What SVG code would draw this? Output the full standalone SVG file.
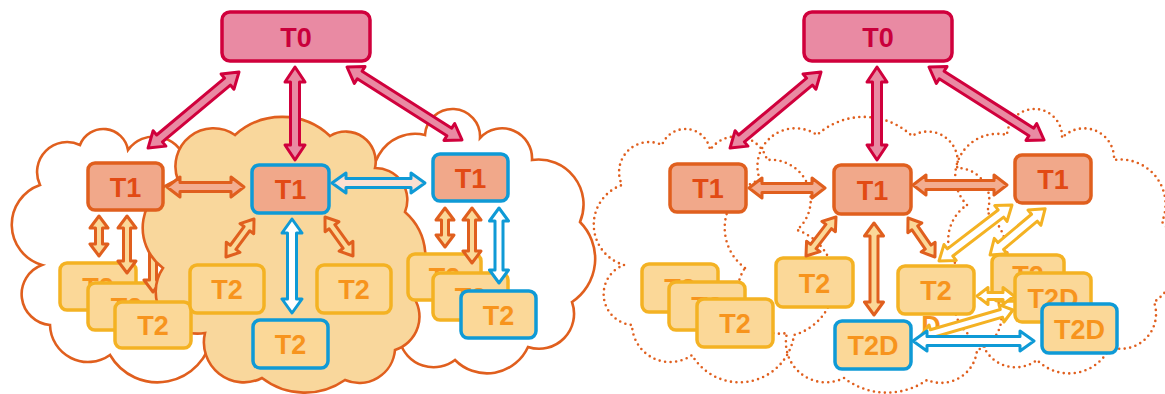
<svg xmlns="http://www.w3.org/2000/svg" xmlns:xlink="http://www.w3.org/1999/xlink" width="1165" height="394" viewBox="0 0 1165 394">
<style>
.cl{fill:#fff;stroke:#e05f1e;stroke-width:2.6}
.clf{fill:#f9d79c;stroke:#e05f1e;stroke-width:2.6}
.cd{fill:none;stroke:#e05f1e;stroke-width:2.6;stroke-dasharray:0 5.5;stroke-linecap:round}
.b0{fill:#e98aa3;stroke:#d0003c;stroke-width:3.5}
.b1{fill:#f1a88a;stroke:#e05f1e;stroke-width:3.5}
.b1b{fill:#f1a88a;stroke:#0f9ad6;stroke-width:3.5}
.b2{fill:#fbd898;stroke:#f4b223;stroke-width:3.5}
.b2b{fill:#fbd898;stroke:#0f9ad6;stroke-width:3.5}
.t{font-family:"Liberation Sans",Arial,sans-serif;font-weight:bold;font-size:27px;text-anchor:middle}
.t0{fill:#c9003c}.t1{fill:#e24a14}.t2{fill:#f7941d}
polygon{stroke-width:3;stroke-linejoin:round}
.ac{fill:#e98aa3;stroke:#d0003c}
.as{fill:#f3ad90;stroke:#e05f1e}
.ay{fill:#fbd898;stroke:#e05f1e}
.ab{fill:#fff;stroke:#0f9ad6}
.abs{fill:#fbe0d2;stroke:#0f9ad6}
.aw{fill:#fff;stroke:#f4b223}
</style>
<defs>
<path id="cL" d="M 42 265 A 42 42 0 0 1 40 185 A 30 30 0 0 1 80 145 A 25 25 0 0 1 128 150 A 32 32 0 0 1 185 160 A 40 40 0 0 1 215 230 A 55 55 0 0 1 212 335 A 55 55 0 0 1 110 355 A 38 38 0 0 1 50 325 A 31 31 0 0 1 42 265 Z"/>
<path id="cR" d="M 385 205 A 42 42 0 0 1 425 135 A 27 27 0 0 1 480 138 A 30 30 0 0 1 532 160 A 45 45 0 0 1 580 222 A 52 52 0 0 1 572 302 A 35 35 0 0 1 528 347 A 45 45 0 0 1 455 360 A 35 35 0 0 1 400 342 A 40 40 0 0 1 385 275 A 42 42 0 0 1 385 205 Z"/>
<path id="cM" d="M 163 268 A 50 50 0 0 1 178 180 A 38 38 0 0 1 235 135 A 70 70 0 0 1 330 136 A 30 30 0 0 1 375 168 A 32 32 0 0 1 405 212 A 60 60 0 0 1 412 295 A 35 35 0 0 1 395 350 A 36 36 0 0 1 345 380 A 70 70 0 0 1 262 378 A 40 40 0 0 1 205 333 A 42 42 0 0 1 163 268 Z"/>
</defs>

<g id="clouds-left">
<use href="#cL" class="cl"/>
<use href="#cR" class="cl"/>
</g>
<g id="clouds-right">
<use href="#cL" class="cd" transform="translate(582 0)"/>
<use href="#cM" class="cd" transform="translate(582 0)"/>
<use href="#cR" class="cd" transform="translate(582 0)"/>
</g>

<g id="L-T2-s1"><rect class="b2" x="60" y="263" width="76" height="47" rx="7"/><text class="t t2" x="98" y="296.5">T2</text></g>
<g id="L-T2-s2"><rect class="b2" x="88" y="283" width="77" height="47" rx="7"/><text class="t t2" x="126.5" y="316.5">T2</text></g>

<g id="connectors-under">
<polygon class="ay" transform="translate(153 212) rotate(90)" points="0,0 12,-9 12,-3.5 68,-3.5 68,-9 80,0 68,9 68,3.5 12,3.5 12,9"/>
<polygon class="aw" transform="translate(990 255) rotate(-40)" points="0,0 14,-10 14,-4.5 58,-4.5 58,-10 72,0 58,10 58,4.5 14,4.5 14,10"/>
</g>

<g id="cloud-middle-filled"><use href="#cM" class="clf"/></g>

<g id="L-T2-s3"><rect class="b2" x="115" y="302" width="76" height="46" rx="7"/><text class="t t2" x="153" y="335">T2</text></g>
<g id="L-T0"><rect class="b0" x="222" y="12" width="148" height="49" rx="8"/><text class="t t0" x="296" y="46.5">T0</text></g>
<g id="L-T1-a"><rect class="b1" x="88" y="163" width="75" height="47" rx="7"/><text class="t t1" x="125.5" y="196.5">T1</text></g>
<g id="L-T1-b"><rect class="b1b" x="252" y="165" width="77" height="48" rx="7"/><text class="t t1" x="290.5" y="199">T1</text></g>
<g id="L-T1-c"><rect class="b1b" x="433" y="154" width="75" height="47" rx="7"/><text class="t t1" x="470.5" y="187.5">T1</text></g>
<g id="L-T2-m1"><rect class="b2" x="190" y="265" width="74" height="48" rx="7"/><text class="t t2" x="227" y="299">T2</text></g>
<g id="L-T2-m2"><rect class="b2" x="317" y="265" width="74" height="48" rx="7"/><text class="t t2" x="354" y="299">T2</text></g>
<g id="L-T2-m3"><rect class="b2b" x="253" y="320" width="75" height="48" rx="7"/><text class="t t2" x="290.5" y="354">T2</text></g>
<g id="L-T2-r1"><rect class="b2" x="408" y="254" width="73" height="46" rx="7"/><text class="t t2" x="444.5" y="287">T2</text></g>
<g id="L-T2-r2"><rect class="b2" x="433" y="273" width="75" height="47" rx="7"/><text class="t t2" x="470.5" y="306.5">T2</text></g>
<g id="L-T2-r3"><rect class="b2b" x="461" y="291" width="75" height="47" rx="7"/><text class="t t2" x="498.5" y="324.5">T2</text></g>

<g id="R-T0"><rect class="b0" x="804" y="12" width="148" height="49" rx="8"/><text class="t t0" x="878" y="46.5">T0</text></g>
<g id="R-T1-a"><rect class="b1" x="670" y="164" width="76" height="48" rx="7"/><text class="t t1" x="708" y="198">T1</text></g>
<g id="R-T1-b"><rect class="b1" x="834" y="165" width="77" height="49" rx="7"/><text class="t t1" x="872.5" y="199.5">T1</text></g>
<g id="R-T1-c"><rect class="b1" x="1015" y="155" width="76" height="48" rx="7"/><text class="t t1" x="1053" y="189">T1</text></g>
<g id="R-T2-s1"><rect class="b2" x="642" y="264" width="76" height="48" rx="7"/><text class="t t2" x="680" y="298">T2</text></g>
<g id="R-T2-s2"><rect class="b2" x="669" y="282" width="76" height="48" rx="7"/><text class="t t2" x="707" y="316">T2</text></g>
<g id="R-T2-s3"><rect class="b2" x="697" y="299" width="76" height="48" rx="7"/><text class="t t2" x="735" y="333">T2</text></g>
<g id="R-T2-m1"><rect class="b2" x="776" y="258" width="77" height="49" rx="7"/><text class="t t2" x="814.5" y="292.5">T2</text></g>
<g id="R-D"><text class="t t2" x="931" y="335">D</text></g>
<g id="R-T2-m2"><rect class="b2" x="898" y="266" width="76" height="48" rx="7"/><text class="t t2" x="936" y="300">T2</text></g>
<g id="R-T2D-m"><rect class="b2b" x="835" y="321" width="76" height="48" rx="7"/><text class="t t2" x="873" y="355">T2D</text></g>
<g id="R-T2-r1"><rect class="b2" x="992" y="255" width="72" height="46" rx="7"/><text class="t t2" x="1028" y="285">T2</text></g>
<g id="R-T2D-r2"><rect class="b2" x="1015" y="273" width="76" height="49" rx="7"/><text class="t t2" x="1053" y="307.5">T2D</text></g>
<g id="R-T2D-r3"><rect class="b2b" x="1042" y="304" width="75" height="49" rx="7"/><text class="t t2" x="1079.5" y="338.5">T2D</text></g>

<g id="connectors">
<polygon class="ac" transform="translate(239 72) rotate(140.1)" points="0,0 15,-10 15,-4.5 103.6,-4.5 103.6,-10 118.6,0 103.6,10 103.6,4.5 15,4.5 15,10"/>
<polygon class="ac" transform="translate(295 67) rotate(90)" points="0,0 15,-10 15,-4.5 78,-4.5 78,-10 93,0 78,10 78,4.5 15,4.5 15,10"/>
<polygon class="ac" transform="translate(347 67) rotate(32.4)" points="0,0 15,-10 15,-4.5 121.2,-4.5 121.2,-10 136.2,0 121.2,10 121.2,4.5 15,4.5 15,10"/>
<polygon class="ac" transform="translate(821 72) rotate(140.1)" points="0,0 15,-10 15,-4.5 103.6,-4.5 103.6,-10 118.6,0 103.6,10 103.6,4.5 15,4.5 15,10"/>
<polygon class="ac" transform="translate(877 67) rotate(90)" points="0,0 15,-10 15,-4.5 78,-4.5 78,-10 93,0 78,10 78,4.5 15,4.5 15,10"/>
<polygon class="ac" transform="translate(929 67) rotate(32.4)" points="0,0 15,-10 15,-4.5 121.2,-4.5 121.2,-10 136.2,0 121.2,10 121.2,4.5 15,4.5 15,10"/>

<polygon class="as" transform="translate(167 187)" points="0,0 13,-10 13,-4.5 64,-4.5 64,-10 77,0 64,10 64,4.5 13,4.5 13,10"/>
<polygon class="ay" transform="translate(99 216) rotate(90)" points="0,0 12,-9 12,-3.5 28,-3.5 28,-9 40,0 28,9 28,3.5 12,3.5 12,9"/>
<polygon class="ay" transform="translate(127 216) rotate(90)" points="0,0 12,-9 12,-3.5 45,-3.5 45,-9 57,0 45,9 45,3.5 12,3.5 12,9"/>
<polygon class="ay" transform="translate(254 219) rotate(126.4)" points="0,0 12,-8.5 12,-3.5 35.2,-3.5 35.2,-8.5 47.2,0 35.2,8.5 35.2,3.5 12,3.5 12,8.5"/>
<polygon class="ay" transform="translate(325 217) rotate(54.3)" points="0,0 12,-8.5 12,-3.5 36,-3.5 36,-8.5 48,0 36,8.5 36,3.5 12,3.5 12,8.5"/>
<polygon class="ay" transform="translate(445 208) rotate(90)" points="0,0 12,-9 12,-3.5 27,-3.5 27,-9 39,0 27,9 27,3.5 12,3.5 12,9"/>
<polygon class="ay" transform="translate(472 208) rotate(90)" points="0,0 12,-9 12,-3.5 43,-3.5 43,-9 55,0 43,9 43,3.5 12,3.5 12,9"/>
<polygon class="ab" transform="translate(292 219) rotate(90)" points="0,0 14,-10 14,-4.5 80,-4.5 80,-10 94,0 80,10 80,4.5 14,4.5 14,10"/>
<polygon class="abs" transform="translate(332 183)" points="0,0 14,-10 14,-4.5 79,-4.5 79,-10 93,0 79,10 79,4.5 14,4.5 14,10"/>
<polygon class="ab" transform="translate(499 208) rotate(90)" points="0,0 13,-9.5 13,-4 62,-4 62,-9.5 75,0 62,9.5 62,4 13,4 13,9.5"/>

<polygon class="as" transform="translate(749 188)" points="0,0 13,-10 13,-4.5 63,-4.5 63,-10 76,0 63,10 63,4.5 13,4.5 13,10"/>
<polygon class="as" transform="translate(913 185)" points="0,0 13,-10 13,-4.5 81,-4.5 81,-10 94,0 81,10 81,4.5 13,4.5 13,10"/>
<polygon class="ay" transform="translate(836 217) rotate(127.6)" points="0,0 12,-8.5 12,-3.5 37.2,-3.5 37.2,-8.5 49.2,0 37.2,8.5 37.2,3.5 12,3.5 12,8.5"/>
<polygon class="ay" transform="translate(874 223) rotate(90)" points="0,0 13,-9.5 13,-4 79,-4 79,-9.5 92,0 79,9.5 79,4 13,4 13,9.5"/>
<polygon class="ay" transform="translate(908 218) rotate(55.3)" points="0,0 12,-8.5 12,-3.5 35.4,-3.5 35.4,-8.5 47.4,0 35.4,8.5 35.4,3.5 12,3.5 12,8.5"/>
<polygon class="aw" transform="translate(939 261) rotate(-37.5)" points="0,0 14,-10 14,-4.5 78,-4.5 78,-10 92,0 78,10 78,4.5 14,4.5 14,10"/>
<polygon class="aw" transform="translate(977 296)" points="0,0 11,-8.5 11,-3.5 26,-3.5 26,-8.5 37,0 26,8.5 26,3.5 11,3.5 11,8.5"/>
<polygon class="aw" transform="translate(920 337) rotate(-16.2)" points="0,0 12,-9 12,-4 84.8,-4 84.8,-9 96.8,0 84.8,9 84.8,4 12,4 12,9"/>
<polygon class="ab" transform="translate(913 341)" points="0,0 14,-10 14,-4.5 107,-4.5 107,-10 121,0 107,10 107,4.5 14,4.5 14,10"/>
</g>
</svg>
